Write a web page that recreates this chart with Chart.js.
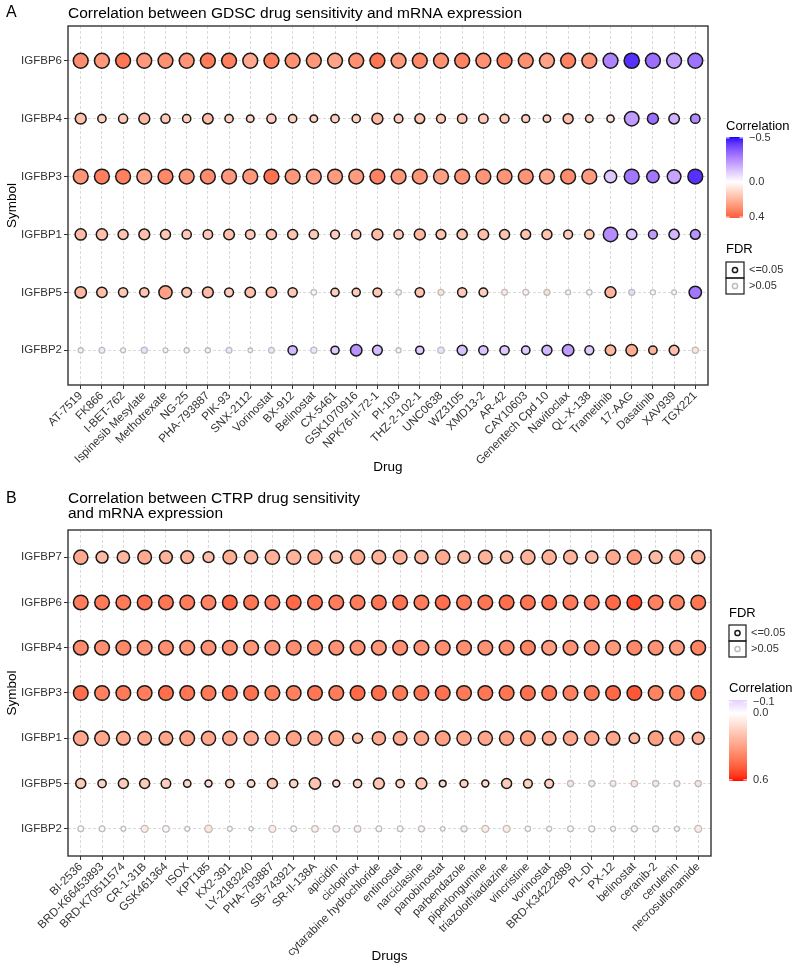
<!DOCTYPE html>
<html>
<head>
<meta charset="utf-8">
<script src="https://cdn.jsdelivr.net/npm/chart.js@4.4.1/dist/chart.umd.min.js"></script>
<style>
  body { margin: 0; background: #fff; }
  .panel { position: relative; width: 800px; height: 485px; }
  canvas { display: block; }
</style>
</head>
<body>
<div class="panel"><canvas id="gdscChart" width="800" height="485"></canvas></div>
<div class="panel"><canvas id="ctrpChart" width="800" height="485"></canvas></div>
<script>
// ---- panel A : GDSC ----
const gdscDrugs = ['AT-7519', 'FK866', 'I-BET-762', 'Ispinesib Mesylate', 'Methotrexate', 'NG-25', 'PHA-793887', 'PIK-93',
  'SNX-2112', 'Vorinostat', 'BX-912', 'Belinostat', 'CX-5461', 'GSK1070916', 'NPK76-II-72-1', 'PI-103', 'THZ-2-102-1',
  'UNC0638', 'WZ3105', 'XMD13-2', 'AR-42', 'CAY10603', 'Genentech Cpd 10', 'Navitoclax', 'QL-X-138', 'Trametinib',
  '17-AAG', 'Dasatinib', 'XAV939', 'TGX221'];
const gdscSymbols = ['IGFBP6', 'IGFBP4', 'IGFBP3', 'IGFBP1', 'IGFBP5', 'IGFBP2'];
// correlation, one row per symbol (top to bottom)
const gdscCor = [
  [0.30, 0.27, 0.35, 0.27, 0.29, 0.28, 0.34, 0.33, 0.23, 0.33, 0.29, 0.27, 0.24, 0.29, 0.35, 0.27, 0.31, 0.29, 0.32, 0.29, 0.33, 0.29, 0.24, 0.32, 0.28, -0.27, -0.45, -0.32, -0.21, -0.31],
  [0.17, 0.13, 0.15, 0.19, 0.15, 0.13, 0.18, 0.13, 0.12, 0.14, 0.13, 0.12, 0.13, 0.13, 0.19, 0.14, 0.16, 0.15, 0.16, 0.15, 0.15, 0.13, 0.12, 0.17, 0.12, 0.08, -0.22, -0.32, -0.17, -0.26],
  [0.28, 0.33, 0.33, 0.24, 0.31, 0.27, 0.30, 0.27, 0.27, 0.36, 0.27, 0.25, 0.26, 0.26, 0.32, 0.27, 0.28, 0.25, 0.28, 0.28, 0.28, 0.28, 0.23, 0.30, 0.26, -0.12, -0.30, -0.30, -0.20, -0.45],
  [0.18, 0.17, 0.16, 0.17, 0.15, 0.15, 0.15, 0.17, 0.15, 0.16, 0.16, 0.14, 0.14, 0.15, 0.18, 0.15, 0.19, 0.16, 0.16, 0.17, 0.16, 0.16, 0.16, 0.14, 0.15, -0.25, -0.13, -0.22, -0.16, -0.24],
  [0.19, 0.17, 0.15, 0.16, 0.25, 0.15, 0.18, 0.14, 0.17, 0.18, 0.15, 0.03, 0.13, 0.14, 0.15, 0.04, 0.16, 0.08, 0.14, 0.13, 0.06, 0.04, 0.09, 0.03, 0.03, 0.20, -0.08, 0.02, 0.02, -0.30],
  [-0.03, -0.05, -0.02, -0.07, -0.02, -0.03, -0.03, -0.06, -0.01, -0.06, -0.16, -0.06, -0.12, -0.24, -0.15, -0.03, -0.12, -0.07, -0.14, -0.13, -0.12, -0.12, -0.16, -0.22, -0.12, 0.19, 0.22, 0.20, 0.17, 0.07]
];
// -log10(p), drives bubble size
const gdscLogP = [
  [9.5, 9.5, 9.5, 9.5, 9.5, 9.5, 9.5, 9.5, 9.5, 9.5, 9.5, 9.5, 9.5, 9.5, 9.5, 9.5, 9.5, 9.5, 9.5, 9.5, 9.5, 9.5, 9.5, 9.5, 9.5, 9.5, 10, 9.5, 9.5, 9.5],
  [4.9, 2.5, 3.2, 5.0, 3.2, 2.5, 4.5, 2.5, 1.9, 3.2, 2.5, 1.9, 2.5, 2.5, 5.0, 2.8, 3.8, 3.0, 3.5, 3.5, 3.0, 2.2, 1.9, 4.0, 2.0, 1.7, 9.0, 5.0, 4.5, 3.5],
  [9.5, 9.5, 9.5, 9.5, 9.5, 9.5, 9.5, 9.5, 9.5, 9.5, 9.5, 9.5, 9.5, 9.5, 9.5, 9.5, 9.5, 9.5, 9.5, 9.5, 9.5, 9.5, 9.5, 9.5, 9.5, 6.5, 9.5, 6.5, 8.0, 9.5],
  [5.2, 5.2, 4.0, 4.8, 4.0, 3.3, 3.5, 4.6, 3.5, 4.0, 4.0, 3.3, 3.0, 3.3, 5.0, 3.3, 5.0, 3.8, 4.2, 4.5, 4.0, 3.8, 4.0, 3.0, 3.3, 9.0, 4.3, 3.0, 4.2, 3.8],
  [5.4, 4.4, 3.3, 3.3, 7.5, 3.8, 4.8, 3.0, 4.4, 4.4, 3.3, 0.7, 2.4, 2.4, 3.0, 0.7, 3.3, 0.9, 3.3, 2.8, 0.8, 0.8, 0.9, 0.4, 0.6, 5.0, 0.9, 0.4, 0.3, 6.5],
  [0.4, 0.8, 0.3, 1.0, 0.3, 0.4, 0.4, 0.8, 0.1, 0.8, 3.3, 1.0, 2.4, 5.5, 3.8, 0.4, 2.4, 1.2, 4.0, 3.3, 3.3, 2.6, 4.0, 5.5, 3.0, 4.5, 5.5, 2.6, 3.8, 1.0]
];
// 1 = FDR <= 0.05, 0 = FDR > 0.05
const gdscSig = [
  [1, 1, 1, 1, 1, 1, 1, 1, 1, 1, 1, 1, 1, 1, 1, 1, 1, 1, 1, 1, 1, 1, 1, 1, 1, 1, 1, 1, 1, 1],
  [1, 1, 1, 1, 1, 1, 1, 1, 1, 1, 1, 1, 1, 1, 1, 1, 1, 1, 1, 1, 1, 1, 1, 1, 1, 1, 1, 1, 1, 1],
  [1, 1, 1, 1, 1, 1, 1, 1, 1, 1, 1, 1, 1, 1, 1, 1, 1, 1, 1, 1, 1, 1, 1, 1, 1, 1, 1, 1, 1, 1],
  [1, 1, 1, 1, 1, 1, 1, 1, 1, 1, 1, 1, 1, 1, 1, 1, 1, 1, 1, 1, 1, 1, 1, 1, 1, 1, 1, 1, 1, 1],
  [1, 1, 1, 1, 1, 1, 1, 1, 1, 1, 1, 0, 1, 1, 1, 0, 1, 0, 1, 1, 0, 0, 0, 0, 0, 1, 0, 0, 0, 1],
  [0, 0, 0, 0, 0, 0, 0, 0, 0, 0, 1, 0, 1, 1, 1, 0, 1, 0, 1, 1, 1, 1, 1, 1, 1, 1, 1, 1, 1, 0]
];
const gdscLimits = [-0.51, 0.41];
const gdscLegendTicks = [-0.5, 0.0, 0.4];

// ---- panel B : CTRP ----
const ctrpDrugs = ['BI-2536', 'BRD-K66453893', 'BRD-K70511574', 'CR-1-31B', 'GSK461364', 'ISOX', 'KPT185', 'KX2-391',
  'LY-2183240', 'PHA-793887', 'SB-743921', 'SR-II-138A', 'apicidin', 'ciclopirox', 'cytarabine hydrochloride',
  'entinostat', 'narciclasine', 'panobinostat', 'parbendazole', 'piperlongumine', 'triazolothiadiazine', 'vincristine',
  'vorinostat', 'BRD-K34222889', 'PL-DI', 'PX-12', 'belinostat', 'ceranib-2', 'cerulenin', 'necrosulfonamide'];
const ctrpSymbols = ['IGFBP7', 'IGFBP6', 'IGFBP4', 'IGFBP3', 'IGFBP1', 'IGFBP5', 'IGFBP2'];
const ctrpCor = [
  [0.27, 0.22, 0.23, 0.27, 0.24, 0.24, 0.21, 0.26, 0.24, 0.25, 0.24, 0.27, 0.21, 0.27, 0.25, 0.25, 0.24, 0.27, 0.23, 0.24, 0.22, 0.24, 0.25, 0.24, 0.22, 0.27, 0.31, 0.22, 0.27, 0.24],
  [0.40, 0.41, 0.41, 0.43, 0.42, 0.40, 0.38, 0.46, 0.42, 0.40, 0.45, 0.42, 0.40, 0.40, 0.42, 0.43, 0.40, 0.44, 0.41, 0.42, 0.44, 0.42, 0.44, 0.41, 0.40, 0.45, 0.52, 0.39, 0.38, 0.42],
  [0.36, 0.35, 0.37, 0.34, 0.35, 0.33, 0.34, 0.35, 0.33, 0.34, 0.35, 0.35, 0.34, 0.34, 0.33, 0.35, 0.34, 0.35, 0.35, 0.34, 0.35, 0.38, 0.31, 0.34, 0.34, 0.32, 0.37, 0.34, 0.31, 0.38],
  [0.44, 0.39, 0.41, 0.40, 0.44, 0.42, 0.41, 0.43, 0.43, 0.39, 0.39, 0.42, 0.40, 0.45, 0.44, 0.41, 0.42, 0.43, 0.41, 0.42, 0.42, 0.43, 0.42, 0.39, 0.41, 0.46, 0.50, 0.38, 0.39, 0.45],
  [0.28, 0.28, 0.27, 0.27, 0.28, 0.29, 0.28, 0.28, 0.27, 0.28, 0.29, 0.28, 0.28, 0.22, 0.27, 0.27, 0.28, 0.30, 0.28, 0.28, 0.29, 0.30, 0.27, 0.28, 0.29, 0.28, 0.23, 0.30, 0.29, 0.25],
  [0.17, 0.14, 0.17, 0.17, 0.16, 0.13, 0.12, 0.14, 0.12, 0.18, 0.14, 0.19, 0.12, 0.14, 0.18, 0.14, 0.18, 0.12, 0.14, 0.13, 0.17, 0.15, 0.15, 0.08, 0.07, 0.07, 0.09, 0.08, 0.06, 0.09],
  [0.02, 0.02, 0.01, 0.07, 0.03, 0.01, 0.08, 0.02, 0.01, 0.06, 0.02, 0.06, 0.05, 0.05, 0.02, 0.03, 0.04, 0.01, 0.06, 0.07, 0.07, 0.01, 0.01, 0.02, 0.02, 0.01, 0.04, -0.03, 0.01, 0.07]
];
const ctrpLogP = [
  [8.6, 5.9, 6.4, 8.0, 6.9, 6.9, 4.9, 8.0, 7.5, 8.6, 8.6, 8.6, 6.4, 8.6, 8.0, 8.0, 7.5, 8.6, 6.4, 8.0, 6.4, 8.6, 8.6, 8.0, 6.4, 8.6, 8.6, 6.9, 8.6, 7.5],
  [9.2, 9.2, 9.2, 9.2, 9.2, 9.2, 9.2, 9.2, 9.2, 9.2, 9.2, 9.2, 9.2, 9.2, 9.2, 9.2, 9.2, 9.2, 9.2, 9.2, 9.2, 9.2, 9.2, 9.2, 9.2, 9.2, 9.2, 9.2, 9.2, 9.2],
  [9.2, 9.2, 9.2, 9.2, 9.2, 9.2, 9.2, 9.2, 9.2, 9.2, 9.2, 9.2, 9.2, 9.2, 9.2, 9.2, 9.2, 9.2, 9.2, 9.2, 9.2, 9.2, 9.2, 9.2, 9.2, 9.2, 9.2, 9.2, 9.2, 9.2],
  [9.2, 9.2, 9.2, 9.2, 9.2, 9.2, 9.2, 9.2, 9.2, 9.2, 9.2, 9.2, 9.2, 9.2, 9.2, 9.2, 9.2, 9.2, 9.2, 9.2, 9.2, 9.2, 9.2, 9.2, 9.2, 9.2, 9.2, 9.2, 9.2, 9.2],
  [9.2, 9.2, 8.0, 8.0, 8.0, 9.2, 8.6, 8.6, 8.6, 8.6, 9.2, 8.6, 9.2, 4.0, 7.5, 8.0, 8.6, 9.2, 8.6, 8.6, 8.6, 9.2, 8.0, 8.6, 8.6, 8.0, 4.4, 9.2, 8.6, 5.9],
  [4.0, 2.5, 4.0, 4.0, 3.6, 1.85, 1.55, 2.5, 1.85, 4.0, 2.5, 5.4, 1.55, 2.5, 4.9, 2.5, 4.9, 1.4, 2.2, 1.55, 4.0, 2.9, 2.9, 1.0, 1.0, 0.8, 1.2, 1.0, 0.8, 1.0],
  [0.77, 0.77, 0.35, 1.55, 1.27, 0.35, 1.85, 0.35, 0.0, 1.55, 0.77, 1.27, 1.27, 1.27, 0.77, 0.77, 1.0, 0.17, 1.0, 1.55, 1.55, 0.55, 0.35, 0.77, 1.0, 0.35, 1.0, 1.0, 0.35, 1.55]
];
const ctrpSig = [
  [1, 1, 1, 1, 1, 1, 1, 1, 1, 1, 1, 1, 1, 1, 1, 1, 1, 1, 1, 1, 1, 1, 1, 1, 1, 1, 1, 1, 1, 1],
  [1, 1, 1, 1, 1, 1, 1, 1, 1, 1, 1, 1, 1, 1, 1, 1, 1, 1, 1, 1, 1, 1, 1, 1, 1, 1, 1, 1, 1, 1],
  [1, 1, 1, 1, 1, 1, 1, 1, 1, 1, 1, 1, 1, 1, 1, 1, 1, 1, 1, 1, 1, 1, 1, 1, 1, 1, 1, 1, 1, 1],
  [1, 1, 1, 1, 1, 1, 1, 1, 1, 1, 1, 1, 1, 1, 1, 1, 1, 1, 1, 1, 1, 1, 1, 1, 1, 1, 1, 1, 1, 1],
  [1, 1, 1, 1, 1, 1, 1, 1, 1, 1, 1, 1, 1, 1, 1, 1, 1, 1, 1, 1, 1, 1, 1, 1, 1, 1, 1, 1, 1, 1],
  [1, 1, 1, 1, 1, 1, 1, 1, 1, 1, 1, 1, 1, 1, 1, 1, 1, 1, 1, 1, 1, 1, 1, 0, 0, 0, 0, 0, 0, 0],
  [0, 0, 0, 0, 0, 0, 0, 0, 0, 0, 0, 0, 0, 0, 0, 0, 0, 0, 0, 0, 0, 0, 0, 0, 0, 0, 0, 0, 0, 0]
];
const ctrpLimits = [-0.12, 0.61];
const ctrpLegendTicks = [-0.1, 0.0, 0.6];

// ---- colour: blue / white / red gradient interpolated in CIELAB ----
function toLab(rgb) {
  const [r, g, b] = rgb.map(v => { v /= 255; return v <= 0.04045 ? v / 12.92 : Math.pow((v + 0.055) / 1.055, 2.4); });
  const x = (0.4124 * r + 0.3576 * g + 0.1805 * b) / 0.95047;
  const y = 0.2126 * r + 0.7152 * g + 0.0722 * b;
  const z = (0.0193 * r + 0.1192 * g + 0.9505 * b) / 1.08883;
  const f = t => t > 0.008856 ? Math.cbrt(t) : 7.787 * t + 16 / 116;
  return [116 * f(y) - 16, 500 * (f(x) - f(y)), 200 * (f(y) - f(z))];
}
function fromLab([L, a, b]) {
  const fy = (L + 16) / 116, fx = fy + a / 500, fz = fy - b / 200;
  const inv = t => t * t * t > 0.008856 ? t * t * t : (t - 16 / 116) / 7.787;
  const x = inv(fx) * 0.95047, y = inv(fy), z = inv(fz) * 1.08883;
  const lin = [3.2406 * x - 1.5372 * y - 0.4986 * z, -0.9689 * x + 1.8758 * y + 0.0415 * z, 0.0557 * x - 0.2040 * y + 1.0570 * z];
  const g = v => { v = v <= 0.0031308 ? 12.92 * v : 1.055 * Math.pow(v, 1 / 2.4) - 0.055; return Math.round(Math.min(1, Math.max(0, v)) * 255); };
  return 'rgb(' + lin.map(g).join(',') + ')';
}
const LAB_BLUE = toLab([0, 0, 255]), LAB_WHITE = toLab([255, 255, 255]), LAB_RED = toLab([255, 0, 0]);
function corColor(v, maxAbs) {
  const t = Math.max(-1, Math.min(1, v / maxAbs));
  const end = t < 0 ? LAB_BLUE : LAB_RED;
  const k = Math.abs(t);
  return fromLab(LAB_WHITE.map((w, i) => w + (end[i] - w) * k));
}
// outer radius from -log10(p); minus half the stroke
const bubbleR = v => Math.sqrt(8 + 6.1 * v) - 0.7;

Chart.defaults.font.family = '"Liberation Sans", Arial, Helvetica, sans-serif';
const FONT = '"Liberation Sans", Arial, Helvetica, sans-serif';
const TEXT = '#333';

const decor = {
  id: 'decor',
  afterDraw(chart, args, o) {
    const ctx = chart.ctx;
    const ca = chart.chartArea;
    ctx.save();
    ctx.strokeStyle = '#333';
    ctx.lineWidth = 1.4;
    ctx.strokeRect(ca.left, ca.top, ca.right - ca.left, ca.bottom - ca.top);

    ctx.fillStyle = '#000';
    ctx.textAlign = 'left';
    ctx.textBaseline = 'alphabetic';
    ctx.font = '16px ' + FONT;
    ctx.fillText(o.letter, 6, o.letterY);
    ctx.font = '15.5px ' + FONT;
    o.title.forEach((t, i) => ctx.fillText(t, ca.left, o.titleY + i * 15.6));

    // colour bar
    const cb = o.colorbar;
    const [lo, hi] = o.limits;
    const maxAbs = Math.max(Math.abs(lo), Math.abs(hi));
    ctx.font = '13px ' + FONT;
    ctx.fillText('Correlation', cb.x, cb.titleY);
    for (let y = cb.top; y < cb.bottom; y++) {
      const v = lo + (y + 0.5 - cb.top) / (cb.bottom - cb.top) * (hi - lo);
      ctx.fillStyle = corColor(v, maxAbs);
      ctx.fillRect(cb.x, y, cb.w, 1);
    }
    ctx.font = '11px ' + FONT;
    ctx.textBaseline = 'middle';
    o.ticks.forEach(t => {
      const y = cb.top + (t - lo) / (hi - lo) * (cb.bottom - cb.top);
      ctx.strokeStyle = '#fff';
      ctx.lineWidth = 1;
      ctx.beginPath();
      ctx.moveTo(cb.x, y); ctx.lineTo(cb.x + 3.5, y);
      ctx.moveTo(cb.x + cb.w - 3.5, y); ctx.lineTo(cb.x + cb.w, y);
      ctx.stroke();
      ctx.fillStyle = TEXT;
      ctx.fillText(t.toFixed(1).replace('-', '\u2212'), cb.x + cb.w + 6, y);
    });

    // FDR key
    const fk = o.fdrKey;
    ctx.fillStyle = '#000';
    ctx.textBaseline = 'alphabetic';
    ctx.font = '13px ' + FONT;
    ctx.fillText('FDR', fk.x, fk.titleY);
    [['<=0.05', '#1a1a1a'], ['>0.05', '#bdbdbd']].forEach(([lab, col], i) => {
      const y0 = fk.top + i * fk.h;
      ctx.strokeStyle = '#1a1a1a';
      ctx.lineWidth = 1.2;
      ctx.strokeRect(fk.x, y0, fk.w, fk.h);
      ctx.strokeStyle = col;
      ctx.lineWidth = 1.5;
      ctx.beginPath();
      ctx.arc(fk.x + fk.w / 2, y0 + fk.h / 2, 2.6, 0, Math.PI * 2);
      ctx.stroke();
      ctx.fillStyle = TEXT;
      ctx.font = '11px ' + FONT;
      ctx.textBaseline = 'middle';
      ctx.fillText(lab, fk.x + fk.w + 5, y0 + fk.h / 2);
    });
    ctx.restore();
  }
};

function buildPoints(symbols, cor, logP, sig) {
  const pts = [];
  symbols.forEach((s, i) => {
    cor[i].forEach((c, j) => {
      pts.push({ x: j, y: symbols.length - 1 - i, r: bubbleR(logP[i][j]), c: c, s: sig[i][j] });
    });
  });
  return pts;
}

function makeChart(id, drugs, symbols, cor, logP, sig, limits, ticks, xTitle, L) {
  const maxAbs = Math.max(Math.abs(limits[0]), Math.abs(limits[1]));
  const n = symbols.length;
  return new Chart(document.getElementById(id), {
    type: 'bubble',
    data: {
      datasets: [{
        data: buildPoints(symbols, cor, logP, sig),
        backgroundColor: c => corColor(c.raw.c, maxAbs),
        borderColor: c => c.raw.s ? '#1a1a1a' : '#bdbdbd',
        borderWidth: c => c.raw.s ? 1.5 : 1.3,
      }],
    },
    options: {
      responsive: false,
      animation: false,
      events: [],
      layout: { padding: { left: 0, top: L.plotTop, right: 800 - L.plotRight, bottom: 0 } },
      plugins: {
        legend: { display: false },
        tooltip: { enabled: false },
        decor: {
          letter: L.letter, letterY: L.letterY, title: L.title, titleY: L.titleY,
          limits: limits, ticks: ticks, colorbar: L.colorbar, fdrKey: L.fdrKey,
        },
      },
      scales: {
        x: {
          type: 'linear',
          min: -0.6,
          max: drugs.length - 0.4,
          afterBuildTicks: s => { s.ticks = drugs.map((d, i) => ({ value: i })); },
          afterFit: s => { s.height = L.xAxisH; },
          ticks: {
            autoSkip: false, minRotation: 45, maxRotation: 45, padding: 0,
            color: TEXT, font: { size: 11.6 },
            callback: v => drugs[v],
          },
          grid: { color: '#d0d0d0', lineWidth: 0.8, tickColor: '#333', tickLength: 4, tickWidth: 1 },
          border: { display: false, dash: [3, 2] },
          title: { display: true, text: xTitle, color: '#000', font: { size: 13.5 }, padding: { top: 0, bottom: L.xTitlePad } },
        },
        y: {
          type: 'linear',
          min: -0.6,
          max: n - 0.4,
          afterBuildTicks: s => { s.ticks = symbols.map((d, i) => ({ value: i })); },
          afterFit: s => { s.width = L.plotLeft; },
          ticks: { padding: 2, color: TEXT, font: { size: 11.5 }, callback: v => symbols[n - 1 - v] },
          grid: { color: '#d0d0d0', lineWidth: 0.8, tickColor: '#333', tickLength: 4, tickWidth: 1 },
          border: { display: false, dash: [3, 2] },
          title: { display: true, text: 'Symbol', color: '#000', font: { size: 13.5 }, padding: { top: 4, bottom: 0 } },
        },
      },
    },
    plugins: [decor],
  });
}

makeChart('gdscChart', gdscDrugs, gdscSymbols, gdscCor, gdscLogP, gdscSig, gdscLimits, gdscLegendTicks, 'Drug', {
  letter: 'A', letterY: 17, title: ['Correlation between GDSC drug sensitivity and mRNA expression'], titleY: 17.5,
  plotLeft: 68, plotTop: 26, plotRight: 708, xAxisH: 100, xTitlePad: 10,
  colorbar: { x: 726, w: 17, top: 137, bottom: 218, titleY: 130 },
  fdrKey: { x: 726, w: 18, top: 262, h: 16, titleY: 253 },
});

makeChart('ctrpChart', ctrpDrugs, ctrpSymbols, ctrpCor, ctrpLogP, ctrpSig, ctrpLimits, ctrpLegendTicks, 'Drugs', {
  letter: 'B', letterY: 18, title: ['Correlation between CTRP drug sensitivity', 'and mRNA expression'], titleY: 17.7,
  plotLeft: 68, plotTop: 45, plotRight: 711, xAxisH: 114, xTitlePad: 6,
  colorbar: { x: 729, w: 18, top: 215, bottom: 296, titleY: 207 },
  fdrKey: { x: 729, w: 17, top: 140, h: 16, titleY: 131.5 },
});
</script>
</body>
</html>
